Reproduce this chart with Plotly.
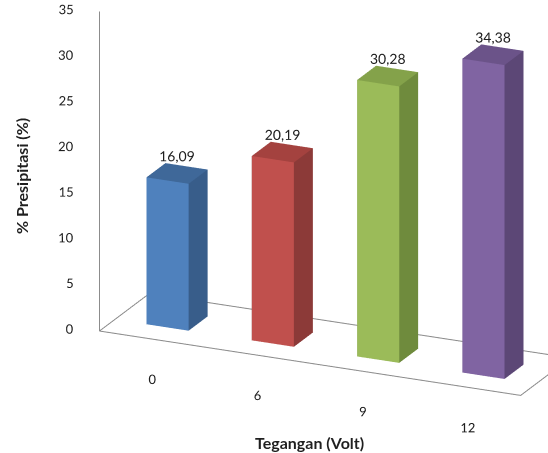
import plotly.graph_objects as go

# Data
categories = ["0", "6", "9", "12"]
values = [16.09, 20.19, 30.28, 34.38]
tick_values = [0, 5, 10, 15, 20, 25, 30, 35]

# Face colours per bar: front, right side, top
front_colors = ["#4F81BD", "#C0504D", "#9BBB59", "#8064A2"]
side_colors = ["#385D8A", "#8C3A38", "#6F8B3D", "#5C4776"]
top_colors = ["#3F6899", "#A4423F", "#84A24A", "#6B5389"]

FONT = "Lato"
TEXT = "#1F1F1F"
EDGE = "#8C8C8C"

# Scene geometry (x: category slots, y: depth, z: value)
X_RANGE = [-0.5, 4.5]
Y_RANGE = [0.0, 1.0]
Z_RANGE = [-8.0, 38.0]
BAR_HALF = 0.2
BAR_Y = (0.31, 0.69)
ZOOM = 2.55


def box(x0, x1, y0, y1, z0, z1):
    xs = [x0, x1, x1, x0, x0, x1, x1, x0]
    ys = [y0, y0, y1, y1, y0, y0, y1, y1]
    zs = [z0, z0, z0, z0, z1, z1, z1, z1]
    tris = [
        (0, 1, 5), (0, 5, 4),  # front
        (1, 2, 6), (1, 6, 5),  # right
        (4, 5, 6), (4, 6, 7),  # top
        (3, 2, 6), (3, 6, 7),  # back
        (0, 3, 7), (0, 7, 4),  # left
        (0, 1, 2), (0, 2, 3),  # bottom
    ]
    i, j, k = zip(*tris)
    return xs, ys, zs, list(i), list(j), list(k)


fig = go.Figure()

for n, (cat, v) in enumerate(zip(categories, values)):
    xc = n + 0.5
    xs, ys, zs, i, j, k = box(xc - BAR_HALF, xc + BAR_HALF, BAR_Y[0], BAR_Y[1], 0, v)
    fc = ([front_colors[n]] * 2 + [side_colors[n]] * 2 + [top_colors[n]] * 2
          + [side_colors[n]] * 6)
    fig.add_trace(go.Mesh3d(
        x=xs, y=ys, z=zs, i=i, j=j, k=k, facecolor=fc, flatshading=True,
        lighting=dict(ambient=1.0, diffuse=0.0, specular=0.0, roughness=1.0, fresnel=0.0),
        hoverinfo="skip", showscale=False,
    ))

# Floor outline and value axis line
fig.add_trace(go.Scatter3d(
    x=[0, 4, 4, 0, 0], y=[0, 0, 1, 1, 0], z=[0, 0, 0, 0, 0],
    mode="lines", line=dict(color=EDGE, width=2), hoverinfo="skip",
))
fig.add_trace(go.Scatter3d(
    x=[0, 0], y=[0, 0], z=[0, tick_values[-1]],
    mode="lines", line=dict(color=EDGE, width=2), hoverinfo="skip",
))

# Value axis tick labels
fig.add_trace(go.Scatter3d(
    x=[-0.13] * len(tick_values), y=[0] * len(tick_values), z=tick_values,
    mode="text", text=[str(t) for t in tick_values], textposition="middle left",
    textfont=dict(family=FONT, size=13, color=TEXT), hoverinfo="skip",
))

# Category labels under the front edge
fig.add_trace(go.Scatter3d(
    x=[n + 0.5 for n in range(len(categories))], y=[0] * len(categories),
    z=[-4.4] * len(categories),
    mode="text", text=categories, textposition="middle center",
    textfont=dict(family=FONT, size=13, color=TEXT), hoverinfo="skip",
))

# Value labels above each bar
fig.add_trace(go.Scatter3d(
    x=[n + 0.5 for n in range(len(values))], y=[0.5] * len(values),
    z=[v + 1.8 for v in values],
    mode="text", text=[f"{v:.2f}".replace(".", ",") for v in values],
    textposition="middle center",
    textfont=dict(family=FONT, size=14, color=TEXT), hoverinfo="skip",
))

hidden = dict(visible=False, showgrid=False, zeroline=False, showbackground=False)

# Orthographic view from front-right, slightly above
view_dir = (0.387, -0.858, 0.339)
look_at = (-0.0628 * ZOOM - 0.0133, -0.105 * ZOOM - 0.0027, -0.0134 * ZOOM + 0.0083)
eye = tuple(c + 3.0 * d for c, d in zip(look_at, view_dir))

fig.update_layout(
    width=548, height=453,
    margin=dict(l=0, r=0, t=0, b=0),
    paper_bgcolor="white",
    showlegend=False,
    scene=dict(
        domain=dict(x=[0, 1], y=[0, 1]),
        xaxis=dict(range=X_RANGE, **hidden),
        yaxis=dict(range=Y_RANGE, **hidden),
        zaxis=dict(range=Z_RANGE, **hidden),
        aspectmode="manual",
        aspectratio=dict(x=1.0 * ZOOM, y=0.21 * ZOOM, z=0.7728 * ZOOM),
        bgcolor="white",
        camera=dict(
            projection=dict(type="orthographic"),
            center=dict(x=look_at[0], y=look_at[1], z=look_at[2]),
            eye=dict(x=eye[0], y=eye[1], z=eye[2]),
            up=dict(x=0, y=0, z=1),
        ),
    ),
    annotations=[
        dict(text="<b>% Presipitasi (%)</b>", textangle=-90, x=21 / 548, y=1 - 176 / 453,
             xref="paper", yref="paper", xanchor="center", yanchor="middle",
             showarrow=False, font=dict(family=FONT, size=16, color=TEXT)),
        dict(text="<b>Tegangan (Volt)</b>", x=309 / 548, y=1 - 442 / 453,
             xref="paper", yref="paper", xanchor="center", yanchor="middle",
             showarrow=False, font=dict(family=FONT, size=16, color=TEXT)),
    ],
)

fig.write_html("out.html")
